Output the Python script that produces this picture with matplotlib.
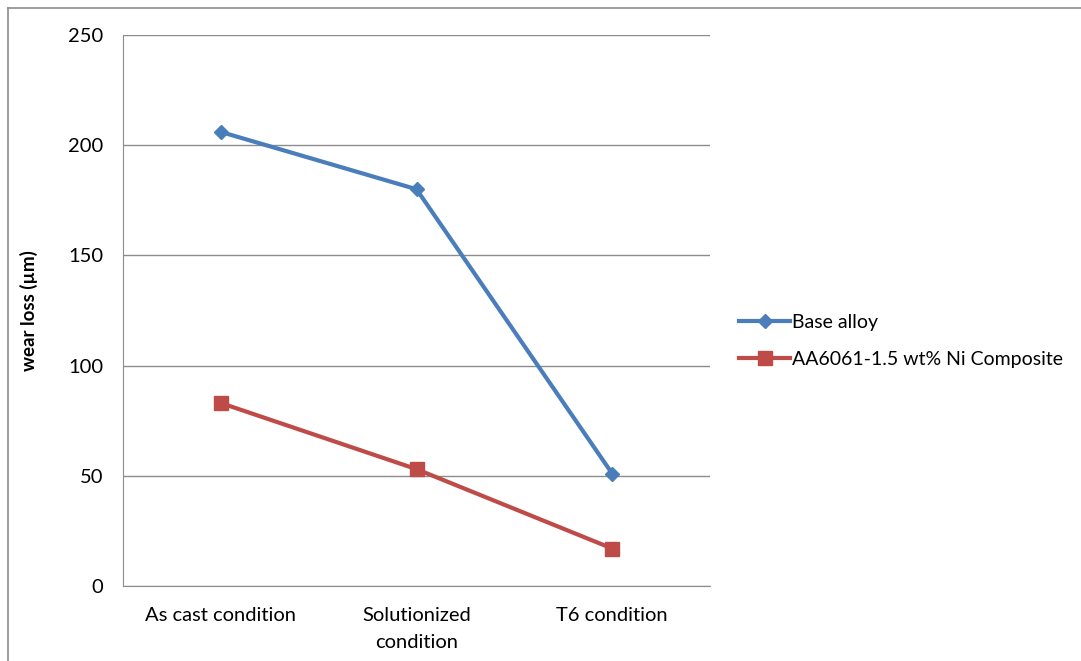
import matplotlib.pyplot as plt
from matplotlib.lines import Line2D

plt.rcParams['font.family'] = ['Lato', 'DejaVu Sans']

condiciones = ["As cast condition", "Solutionized\ncondition", "T6 condition"]
base_alloy = [206, 180, 51]
composite = [83, 53, 17]
etiquetas = ["Base alloy", "AA6061-1.5 wt% Ni Composite"]

fig = plt.figure(figsize=(10.81, 6.61), dpi=100)
ax = fig.add_axes([0.1138, 0.1135, 0.543, 0.8336])

x = range(len(condiciones))
ax.plot(x, base_alloy, color="#4A7EBB", linewidth=3, marker="D", markersize=7,
        label=etiquetas[0])
ax.plot(x, composite, color="#BE4B48", linewidth=3, marker="s", markersize=10,
        label=etiquetas[1])

ax.set_xlim(-0.5, 2.5)
ax.set_ylim(0, 250)
ax.set_yticks([0, 50, 100, 150, 200, 250])
ax.set_xticks(list(x))
ax.set_xticklabels(condiciones, fontsize=14.5, linespacing=1.7)
ax.tick_params(axis="y", labelsize=14.5, length=0, pad=14)
ax.tick_params(axis="x", length=0, pad=15)
ax.grid(axis="y", color="#8c8c8c", linewidth=1)
ax.set_axisbelow(True)
for lado in ["top", "right"]:
    ax.spines[lado].set_visible(False)
ax.spines["left"].set_color("#8c8c8c")
ax.spines["bottom"].set_color("#8c8c8c")
ax.set_ylabel("wear loss (µm)", fontsize=13.5, fontweight="bold", labelpad=22)

ax.legend(loc="center left", bbox_to_anchor=(1.02, 0.445), frameon=False,
          fontsize=14, handlelength=2.6, handletextpad=0.1, labelspacing=1.05)

# marco exterior
fig.add_artist(Line2D([0.0075, 1], [0.988, 0.988], color="#8c8c8c", linewidth=1.2))
fig.add_artist(Line2D([0.0075, 0.0075], [0, 0.988], color="#8c8c8c", linewidth=1.2))

fig.savefig("out.png", dpi=100)
